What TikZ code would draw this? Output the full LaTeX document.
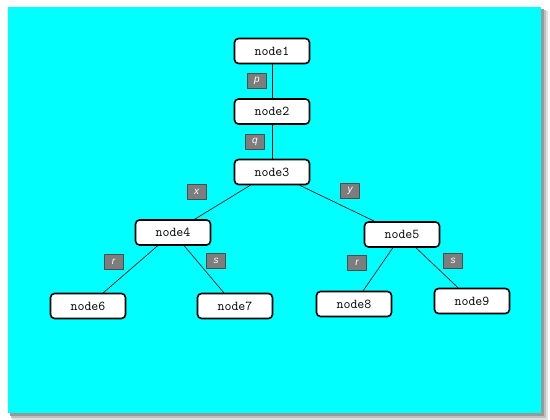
\documentclass[tikz,border=0pt]{standalone}
\usepackage{fontspec}
\newfontfamily\tagfont{Liberation Sans}
\usepackage{tikz}
\usetikzlibrary{arrows.meta, positioning}

\definecolor{panelcyan}{RGB}{0,255,255}
\definecolor{tagcolor}{RGB}{125,125,125}

\tikzset{
    treenode/.style={draw, fill=white, line width=1.6pt, rounded corners=4pt,
        minimum width=75pt, minimum height=25pt, inner sep=0pt,
        font=\ttfamily\fontsize{13.5}{15}\selectfont},
    tag/.style={draw=black!70, fill=tagcolor, line width=0.6pt, text=white,
        minimum width=19pt, minimum height=15pt, inner sep=0pt,
        font=\tagfont\itshape\fontsize{10}{11}\selectfont},
    branch/.style={line width=0.6pt}
}

\begin{document}
\begin{tikzpicture}[node distance=60.5pt]
    \useasboundingbox (0,0) rectangle (550pt,-420pt);
    % panel with its shadow
    \fill[black!12] (12pt,-11pt) rectangle (548pt,-420pt);
    \fill[black!25] (11pt,-10pt) rectangle (546pt,-418pt);
    \fill[black!40] (10pt,-9pt) rectangle (544pt,-416pt);
    \fill[panelcyan] (8pt,-7pt) rectangle (541pt,-413pt);

    \node[treenode] (node1) at (272pt,-51pt) {node1};
    \node[treenode, below of=node1] (node2) {node2};
    \node[treenode, below of=node2] (node3) {node3};
    \node[treenode, below of=node3, xshift=-99pt] (node4) {node4};
    \node[treenode, below of=node3, xshift=130pt, yshift=-2pt] (node5) {node5};
    \node[treenode, below of=node4, xshift=-85pt, yshift=-13pt] (node6) {node6};
    \node[treenode, below of=node4, xshift=62pt, yshift=-13pt] (node7) {node7};
    \node[treenode, below of=node5, xshift=-48pt, yshift=-9pt] (node8) {node8};
    \node[treenode, below of=node5, xshift=70pt, yshift=-6pt] (node9) {node9};

    \draw[branch] (node1) -- node[tag, midway, xshift=-15pt] {p} (node2);
    \draw[branch] (node2) -- node[tag, midway, xshift=-17pt] {q} (node3);
    \draw[branch] (node3) -- node[tag, midway, xshift=-26pt, yshift=10pt] {x} (node4);
    \draw[branch] (node3) -- node[tag, midway, xshift=13pt, yshift=12pt] {y} (node5);
    \draw[branch] (node4) -- node[tag, midway, xshift=-17pt, yshift=7pt] {r} (node6);
    \draw[branch] (node4) -- node[tag, midway, xshift=12pt, yshift=8pt] {s} (node7);
    \draw[branch] (node5) -- node[tag, midway, xshift=-21pt, yshift=6pt] {r} (node8);
    \draw[branch] (node5) -- node[tag, midway, xshift=16pt, yshift=7pt] {s} (node9);
\end{tikzpicture}
\end{document}
